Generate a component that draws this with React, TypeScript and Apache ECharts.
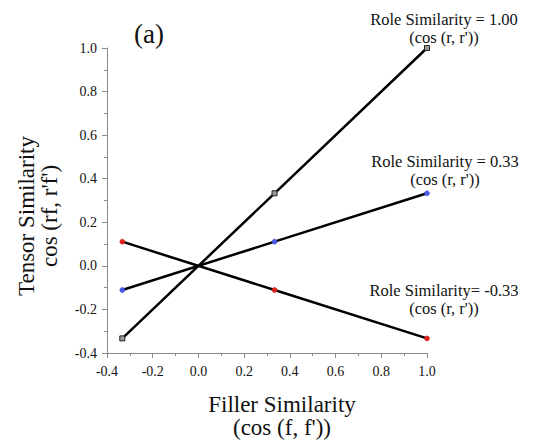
import React, { useEffect, useRef } from "react";
import * as echarts from "echarts";

const fillerSim = [-0.333, 0.333, 1.0];
const role100 = [-0.333, 0.333, 1.0];
const role033 = [-0.111, 0.111, 0.333];
const roleNeg033 = [0.111, -0.111, -0.333];
const seriesNames = ["Role Similarity = 1.00", "Role Similarity = 0.33", "Role Similarity= -0.33"];

const FONT = "Liberation Serif";

export default function App() {
  const ref = useRef<HTMLDivElement>(null);
  useEffect(() => {
    if (!ref.current) return;
    const chart = echarts.init(ref.current, null, { renderer: "svg" });
    const mk = (ys: number[]) => fillerSim.map((x, i) => [x, ys[i]]);
    const axisLabel = {
      show: true,
      fontFamily: FONT,
      fontSize: 14,
      color: "#111",
      formatter: (v: number) => v.toFixed(1),
    };
    const axisCommon = {
      type: "value" as const,
      min: -0.4,
      max: 1.0,
      interval: 0.2,
      axisLine: { show: true, onZero: false, lineStyle: { color: "#8a8a8a", width: 1 } },
      axisTick: { show: true, length: 5, lineStyle: { color: "#8a8a8a" } },
      minorTick: { show: true, splitNumber: 2, length: 3, lineStyle: { color: "#8a8a8a" } },
      splitLine: { show: false },
      minorSplitLine: { show: false },
    };
    const txt = (x: number, y: number, text: string, size: number, lh: number, extra: any = {}) => ({
      type: "text",
      x,
      y,
      ...extra,
      style: {
        text,
        fontFamily: FONT,
        fontSize: size,
        fill: "#111",
        align: "center",
        verticalAlign: "top",
        lineHeight: lh,
      },
    });
    chart.setOption({
      animation: false,
      backgroundColor: "#fff",
      textStyle: { fontFamily: FONT, fontSize: 14 },
      grid: { left: 107, right: 106, top: 48, bottom: 90, containLabel: false },
      xAxis: { ...axisCommon, axisLabel: { ...axisLabel, margin: 11 } },
      yAxis: { ...axisCommon, axisLabel: { ...axisLabel, margin: 10 } },
      series: [
        {
          name: seriesNames[0],
          type: "line",
          data: mk(role100),
          symbol: "rect",
          symbolSize: 5,
          lineStyle: { color: "#000", width: 2.5 },
          itemStyle: { color: "#999", borderColor: "#222", borderWidth: 1 },
          z: 3,
        },
        {
          name: seriesNames[1],
          type: "line",
          data: mk(role033),
          symbol: "circle",
          symbolSize: 5,
          lineStyle: { color: "#000", width: 2.5 },
          itemStyle: { color: "#4a5ae8", borderColor: "#3040d0", borderWidth: 0.5 },
          z: 3,
        },
        {
          name: seriesNames[2],
          type: "line",
          data: mk(roleNeg033),
          symbol: "circle",
          symbolSize: 5,
          lineStyle: { color: "#000", width: 2.5 },
          itemStyle: { color: "#e8201a", borderColor: "#c01010", borderWidth: 0.5 },
          z: 3,
        },
      ],
      graphic: [
        txt(149, 19, "(a)", 27, 30),
        txt(444, 10, seriesNames[0] + "\n(cos (r, r'))", 16.5, 18),
        txt(445, 152, seriesNames[1] + "\n(cos (r, r'))", 16.5, 18),
        txt(444, 281, seriesNames[2] + "\n(cos (r, r'))", 16.5, 18),
        txt(282, 393, "Filler Similarity\n(cos (f, f'))", 23, 23),
        txt(15, 216, "Tensor Similarity\ncos (rf, r'f')", 23, 23, { rotation: Math.PI / 2 }),
      ],
    });
    return () => chart.dispose();
  }, []);
  return <div ref={ref} style={{ width: 533, height: 443, position: "absolute", left: 0, top: 0 }} />;
}
